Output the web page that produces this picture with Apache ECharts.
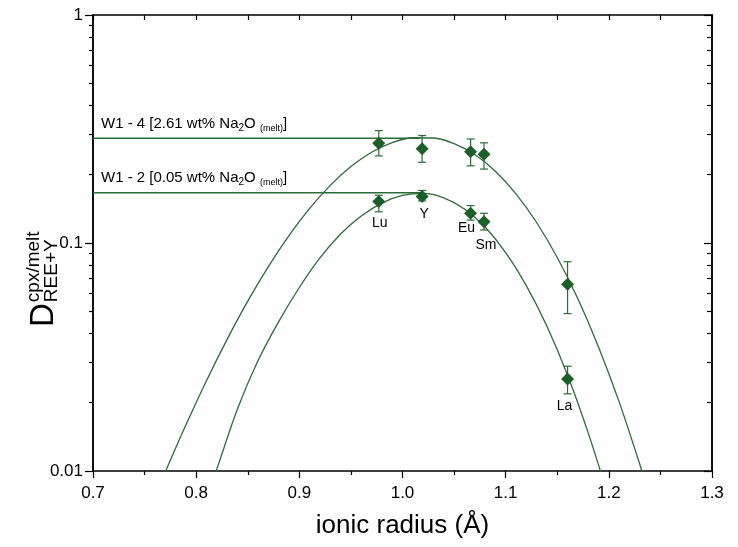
<!DOCTYPE html>
<html>
<head>
<meta charset="utf-8">
<script src="https://cdn.jsdelivr.net/npm/echarts@6/dist/echarts.min.js"></script>
<style>
  html, body { margin: 0; padding: 0; background: #fff; }
  #chart { width: 738px; height: 547px; }
</style>
</head>
<body>
<div id="chart"></div>
<script>
// Measured partition coefficients (cpx/melt) for REE + Y versus ionic radius (Å)
const elements = ['Lu', 'Y', 'Eu', 'Sm', 'La'];
const radius = [0.977, 1.019, 1.066, 1.079, 1.160];

// W1-4 run (2.61 wt% Na2O in melt)
const w14D  = [0.274, 0.259, 0.251, 0.245, 0.0659];
const w14Lo = [0.241, 0.226, 0.218, 0.211, 0.0490];
const w14Hi = [0.311, 0.296, 0.286, 0.275, 0.0828];

// W1-2 run (0.05 wt% Na2O in melt)
const w12D  = [0.152, 0.160, 0.135, 0.124, 0.0253];
const w12Lo = [0.137, 0.153, 0.126, 0.114, 0.0218];
const w12Hi = [0.162, 0.170, 0.146, 0.135, 0.0288];

// Lattice-strain fit curves (sampled along the drawn curves)
const fitW14X = [0.76, 0.77, 0.79, 0.81, 0.83, 0.85, 0.87, 0.89, 0.91, 0.93, 0.95, 0.97, 0.99, 1.01,
                 1.03, 1.05, 1.07, 1.09, 1.11, 1.13, 1.15, 1.17, 1.19, 1.21, 1.23, 1.24];
const fitW14D = [0.0077, 0.00988, 0.0159, 0.0249, 0.0378, 0.0556, 0.0788, 0.1078, 0.1418, 0.179, 0.2164, 0.2501, 0.2758, 0.2895,
                 0.2888, 0.273, 0.2443, 0.2064, 0.1643, 0.123, 0.0864, 0.0569, 0.035, 0.0201, 0.0107, 0.0076];
const fitW12X = [0.80, 0.82, 0.84, 0.86, 0.88, 0.90, 0.92, 0.94, 0.96, 0.98, 1.00, 1.02,
                 1.04, 1.06, 1.08, 1.10, 1.12, 1.14, 1.16, 1.18, 1.20];
const fitW12D = [0.0057, 0.0102, 0.0187, 0.0305, 0.0452, 0.0638, 0.086, 0.1095, 0.1314, 0.1497, 0.1616, 0.165,
                 0.1579, 0.1411, 0.1175, 0.0908, 0.065, 0.0431, 0.0263, 0.0147, 0.0076];

// D0 (peak) levels of the two fits
const refX = [0.7, 1.017];
const refW14 = 0.288;
const refW12 = 0.166;

// Axis ticks
const xTicks = [0.7, 0.8, 0.9, 1.0, 1.1, 1.2, 1.3];
const yMajor = [0.01, 0.1, 1];
const yMinor = [0.02, 0.03, 0.04, 0.05, 0.06, 0.07, 0.08, 0.09, 0.2, 0.3, 0.4, 0.5, 0.6, 0.7, 0.8, 0.9];

const FONT = '"Liberation Sans", Arial, Helvetica, sans-serif';
const GREEN = '#1d5e2a';
const LINE_GREEN = '#2b6c36';

// label placement around the W1-2 markers (pixels, relative to marker centre)
const labelOffset = { Lu: [1, 22], Y: [2, 18], Eu: [-4, 15], Sm: [2, 23], La: [-3, 27] };

const measureCtx = document.createElement('canvas').getContext('2d');
function textWidth(str, size) {
  measureCtx.font = size + 'px ' + FONT;
  return measureCtx.measureText(str).width;
}

// run of text pieces with individual size / vertical shift (for sub/superscripts)
function textRun(parts, x, y, rotation) {
  let cx = 0;
  const children = [];
  parts.forEach(p => {
    const px = cx + (p.gap || 0);
    children.push({
      type: 'text',
      x: px,
      y: p.dy || 0,
      style: {
        text: p.text,
        font: p.size + 'px ' + FONT,
        fill: '#000',
        align: 'left',
        verticalAlign: 'middle'
      }
    });
    if (!p.stay) cx = px + textWidth(p.text, p.size);
  });
  return { type: 'group', x: x, y: y, rotation: rotation || 0, children: children };
}

function pairs(xs, ys) { return xs.map((x, i) => [x, ys[i]]); }

function errorBarItem(params, api) {
  const x = api.value(0);
  const lo = api.coord([x, api.value(1)]);
  const hi = api.coord([x, api.value(2)]);
  const hw = 4;
  const st = { stroke: LINE_GREEN, lineWidth: 1.2 };
  return {
    type: 'group',
    children: [
      { type: 'line', shape: { x1: lo[0], y1: lo[1], x2: hi[0], y2: hi[1] }, style: st },
      { type: 'line', shape: { x1: lo[0] - hw, y1: lo[1], x2: lo[0] + hw, y2: lo[1] }, style: st },
      { type: 'line', shape: { x1: hi[0] - hw, y1: hi[1], x2: hi[0] + hw, y2: hi[1] }, style: st }
    ]
  };
}

const axisLineStyle = { color: '#000', width: 1.5 };
const tickStyle = { color: '#000', width: 1.2 };

function logAxis(position, ticks, len, inside, withLabels) {
  return {
    type: 'log',
    logBase: 10,
    min: 0.01,
    max: 1,
    position: position,
    axisLine: { show: true, onZero: false, lineStyle: axisLineStyle },
    axisTick: { show: true, inside: inside, length: len, lineStyle: tickStyle, customValues: ticks },
    axisLabel: withLabels ? {
      show: true,
      customValues: yMajor,
      formatter: v => String(+v.toPrecision(3)),
      fontSize: 17,
      fontFamily: FONT,
      color: '#000',
      margin: 10
    } : { show: false },
    minorTick: { show: false },
    splitLine: { show: false }
  };
}

const chart = echarts.init(document.getElementById('chart'), null, { renderer: 'canvas' });

const option = {
  animation: false,
  backgroundColor: '#fff',
  grid: { left: 93, right: 26, top: 15, bottom: 76, containLabel: false },
  xAxis: [
    {
      type: 'value', position: 'bottom', min: 0.7, max: 1.3, interval: 0.1,
      axisLine: { onZero: false, lineStyle: axisLineStyle },
      axisTick: { show: true, length: 7, lineStyle: tickStyle, customValues: xTicks },
      minorTick: { show: true, splitNumber: 2, length: 4, lineStyle: tickStyle },
      axisLabel: {
        customValues: xTicks,
        formatter: v => v.toFixed(1),
        fontSize: 17, fontFamily: FONT, color: '#000', margin: 14
      },
      splitLine: { show: false }, minorSplitLine: { show: false }
    },
    {
      type: 'value', position: 'top', min: 0.7, max: 1.3, interval: 0.1,
      axisLine: { onZero: false, lineStyle: axisLineStyle },
      axisTick: { show: true, inside: true, length: 5, lineStyle: tickStyle },
      minorTick: { show: true, splitNumber: 2, length: 5, lineStyle: tickStyle },
      axisLabel: { show: false },
      splitLine: { show: false }, minorSplitLine: { show: false }
    }
  ],
  yAxis: [
    logAxis('left', yMajor, 8, false, true),
    logAxis('left', yMinor, 4, false, false),
    logAxis('right', yMajor, 8, true, false),
    logAxis('right', yMinor, 5, true, false)
  ],
  series: [
    {
      type: 'line', data: pairs(fitW14X, fitW14D), smooth: 0.3, symbol: 'none',
      lineStyle: { color: LINE_GREEN, width: 1.3 }, clip: true, z: 2
    },
    {
      type: 'line', data: pairs(fitW12X, fitW12D), smooth: 0.3, symbol: 'none',
      lineStyle: { color: LINE_GREEN, width: 1.3 }, clip: true, z: 2
    },
    {
      type: 'line', data: pairs(refX, [refW14, refW14]), symbol: 'none',
      lineStyle: { color: LINE_GREEN, width: 1.5 }, z: 2
    },
    {
      type: 'line', data: pairs(refX, [refW12, refW12]), symbol: 'none',
      lineStyle: { color: LINE_GREEN, width: 1.5 }, z: 2
    },
    {
      type: 'custom', renderItem: errorBarItem, z: 3,
      data: radius.map((r, i) => [r, w14Lo[i], w14Hi[i]])
    },
    {
      type: 'custom', renderItem: errorBarItem, z: 3,
      data: radius.map((r, i) => [r, w12Lo[i], w12Hi[i]])
    },
    {
      type: 'scatter', symbol: 'diamond', symbolSize: 13, z: 4,
      itemStyle: { color: GREEN, opacity: 1 },
      data: pairs(radius, w14D)
    },
    {
      type: 'scatter', symbol: 'diamond', symbolSize: 13, z: 4,
      itemStyle: { color: GREEN, opacity: 1 },
      data: radius.map((r, i) => ({
        value: [r, w12D[i]],
        name: elements[i],
        label: {
          show: true,
          formatter: elements[i],
          position: 'inside',
          offset: labelOffset[elements[i]],
          color: '#000',
          fontSize: 14,
          fontFamily: FONT
        }
      }))
    }
  ],
  graphic: [
    textRun([
      { text: 'W1 - 4 [2.61 wt% Na', size: 15 },
      { text: '2', size: 10, dy: 4 },
      { text: 'O ', size: 15 },
      { text: '(melt)', size: 9, dy: 5 },
      { text: ']', size: 15 }
    ], 101, 124),
    textRun([
      { text: 'W1 - 2 [0.05 wt% Na', size: 15 },
      { text: '2', size: 10, dy: 4 },
      { text: 'O ', size: 15 },
      { text: '(melt)', size: 9, dy: 5 },
      { text: ']', size: 15 }
    ], 101, 178),
    textRun([
      { text: 'D', size: 33 },
      { text: 'cpx/melt', size: 19, dy: -10, gap: 1, stay: true },
      { text: 'REE+Y', size: 19, dy: 8, gap: 1 }
    ], 44, 327, Math.PI / 2),
    {
      type: 'text', x: 402.5, y: 526,
      style: {
        text: 'ionic radius (Å)', font: '26px ' + FONT, fill: '#000',
        align: 'center', verticalAlign: 'middle'
      }
    }
  ]
};

chart.setOption(option);
</script>
</body>
</html>
